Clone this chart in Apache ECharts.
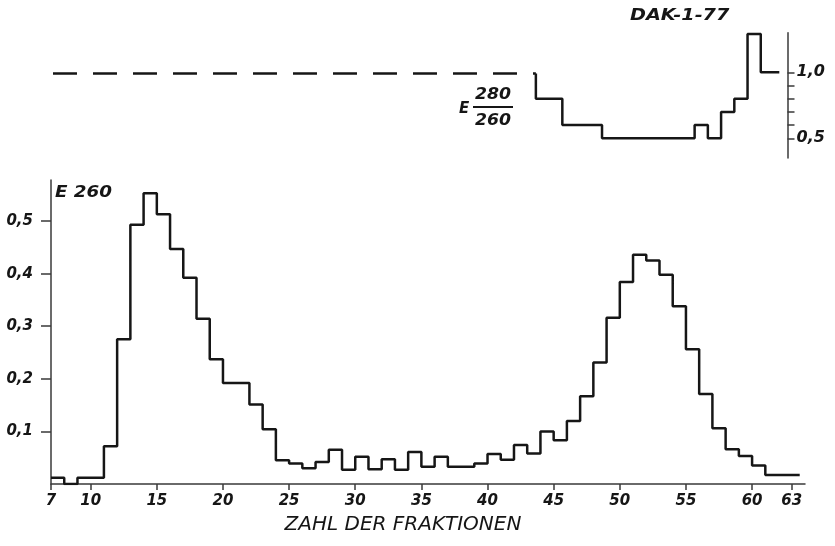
<!DOCTYPE html>
<html>
<head>
<meta charset="utf-8">
<script src="https://cdn.jsdelivr.net/npm/echarts@6/dist/echarts.min.js"></script>
<style>
html, body { margin: 0; background: #fff; }
#chart { width: 835px; height: 546px; }
</style>
</head>
<body>
<div id="chart"></div>
<script>
// E260 per fraction, each bin starts at its fraction number
var fractionEdges = [7, 8, 9, 10, 11, 12, 13, 14, 15, 16, 17, 18, 19, 20, 21, 22, 23, 24, 25, 26,
    27, 28, 29, 30, 31, 32, 33, 34, 35, 36, 37, 38, 39, 40, 41, 42, 43, 44, 45, 46,
    47, 48, 49, 50, 51, 52, 53, 54, 55, 56, 57, 58, 59, 60, 61, 62, 63];
var e260 = [0.012, 0, 0.012, 0.012, 0.072, 0.275, 0.493, 0.553, 0.513, 0.447, 0.392, 0.314, 0.237, 0.192, 0.192, 0.151, 0.104, 0.045, 0.039, 0.030,
    0.042, 0.065, 0.027, 0.052, 0.028, 0.047, 0.027, 0.061, 0.033, 0.052, 0.033, 0.033, 0.039, 0.057, 0.046, 0.074, 0.058, 0.100, 0.083, 0.120,
    0.167, 0.231, 0.316, 0.384, 0.436, 0.425, 0.398, 0.338, 0.256, 0.171, 0.106, 0.066, 0.053, 0.035, 0.017, 0.017, 0.017];
var e260End = 63.6;

// E280/E260 ratio (upper trace)
var ratioDashStart = 7.5;
var ratioDashLevel = 0.99;
var ratioEdges = [44, 46, 49, 56, 57, 58, 59, 60, 61];
var ratioValues = [0.8, 0.6, 0.5, 0.6, 0.5, 0.7, 0.8, 1.29, 1.0];
var ratioEnd = 62.4;

var xTicks = [7, 10, 15, 20, 25, 30, 35, 40, 45, 50, 55, 60, 63];
var e260Ticks = [0.1, 0.2, 0.3, 0.4, 0.5];
var ratioTicks = [0.5, 0.6, 0.7, 0.8, 0.9, 1.0];
var ratioLabels = [0.5, 1.0];

var FONT = 'DejaVu Sans';
var INK = '#161616';
var AXIS = '#3a3a3a';

function comma(v) {
    return v.toFixed(1).replace('.', ',');
}

var histData = fractionEdges.map(function (e, i) { return [e, e260[i]]; });
histData.push([e260End, e260[e260.length - 1]]);

var ratioData = [[ratioEdges[0], ratioDashLevel]];
ratioEdges.forEach(function (e, i) { ratioData.push([e, ratioValues[i]]); });
ratioData.push([ratioEnd, ratioValues[ratioValues.length - 1]]);

var labelStyle = {
    fontFamily: FONT,
    fontStyle: 'italic',
    fontWeight: 'bold',
    fontSize: 15,
    color: INK
};

var chart = echarts.init(document.getElementById('chart'), null, { renderer: 'canvas' });

var option = {
    animation: false,
    backgroundColor: '#fff',
    grid: [
        { left: 51, right: 47.5, top: 32.7, bottom: 387.9, containLabel: false, outerBoundsMode: 'none' },
        { left: 51, right: 30, top: 180, bottom: 62, containLabel: false, outerBoundsMode: 'none' }
    ],
    xAxis: [
        {
            gridIndex: 0, type: 'value', min: 7.35, max: 63.02, show: false
        },
        {
            gridIndex: 1, type: 'value', min: 7, max: 64,
            axisLine: { show: true, lineStyle: { color: AXIS, width: 1.5 } },
            axisTick: { show: true, length: 6, customValues: xTicks, lineStyle: { color: AXIS, width: 1.5 } },
            axisLabel: Object.assign({ customValues: xTicks, margin: 10 }, labelStyle),
            splitLine: { show: false }
        }
    ],
    yAxis: [
        {
            gridIndex: 0, type: 'value', position: 'right', min: 0.35, max: 1.3,
            axisLine: { show: true, lineStyle: { color: AXIS, width: 1.5 } },
            axisTick: { show: true, length: 7, customValues: ratioTicks, lineStyle: { color: AXIS, width: 1.5 } },
            axisLabel: Object.assign({}, labelStyle, { customValues: ratioLabels, margin: 9, fontSize: 16, formatter: comma }),
            splitLine: { show: false }
        },
        {
            gridIndex: 1, type: 'value', min: 0, max: 0.578,
            axisLine: { show: true, lineStyle: { color: AXIS, width: 1.5 } },
            axisTick: { show: true, length: 10, customValues: e260Ticks, lineStyle: { color: AXIS, width: 1.5 } },
            axisLabel: Object.assign({ customValues: e260Ticks, margin: 18, formatter: comma }, labelStyle),
            splitLine: { show: false }
        }
    ],
    series: [
        {
            type: 'line', xAxisIndex: 0, yAxisIndex: 0,
            data: [[ratioDashStart, ratioDashLevel], [ratioEdges[0], ratioDashLevel]],
            showSymbol: false, silent: true,
            lineStyle: { color: INK, width: 2.5, type: [24, 16] }
        },
        {
            type: 'line', xAxisIndex: 0, yAxisIndex: 0, step: 'end',
            data: ratioData,
            showSymbol: false, silent: true,
            lineStyle: { color: INK, width: 2.5 }
        },
        {
            type: 'line', xAxisIndex: 1, yAxisIndex: 1, step: 'end',
            data: histData,
            showSymbol: false, silent: true,
            lineStyle: { color: INK, width: 2.5 }
        }
    ],
    graphic: [
        {
            type: 'text', x: 55, y: 193, scaleX: 1.22,
            style: { text: 'E 260', fill: INK, font: 'italic bold 15px "DejaVu Sans"', align: 'left', verticalAlign: 'middle', textAlign: 'left', textVerticalAlign: 'middle' }
        },
        {
            type: 'text', x: 630, y: 16, scaleX: 1.2,
            style: { text: 'DAK-1-77', fill: INK, font: 'italic bold 16px "DejaVu Sans"', align: 'left', verticalAlign: 'middle', textAlign: 'left', textVerticalAlign: 'middle' }
        },
        {
            type: 'text', x: 459, y: 109,
            style: { text: 'E', fill: INK, font: 'italic bold 15px "DejaVu Sans"', align: 'left', verticalAlign: 'middle', textAlign: 'left', textVerticalAlign: 'middle' }
        },
        {
            type: 'text', x: 493, y: 95, scaleX: 1.15,
            style: { text: '280', fill: INK, font: 'italic bold 15px "DejaVu Sans"', align: 'center', verticalAlign: 'middle', textAlign: 'center', textVerticalAlign: 'middle' }
        },
        {
            type: 'line',
            shape: { x1: 473, y1: 107, x2: 513, y2: 107 },
            style: { stroke: INK, lineWidth: 2 }
        },
        {
            type: 'text', x: 493, y: 121, scaleX: 1.15,
            style: { text: '260', fill: INK, font: 'italic bold 15px "DejaVu Sans"', align: 'center', verticalAlign: 'middle', textAlign: 'center', textVerticalAlign: 'middle' }
        },
        {
            type: 'text', x: 403, y: 525,
            style: { text: 'ZAHL DER FRAKTIONEN', fill: INK, font: 'italic 20px "DejaVu Sans"', align: 'center', verticalAlign: 'middle', textAlign: 'center', textVerticalAlign: 'middle' }
        }
    ]
};

chart.setOption(option);
</script>
</body>
</html>
